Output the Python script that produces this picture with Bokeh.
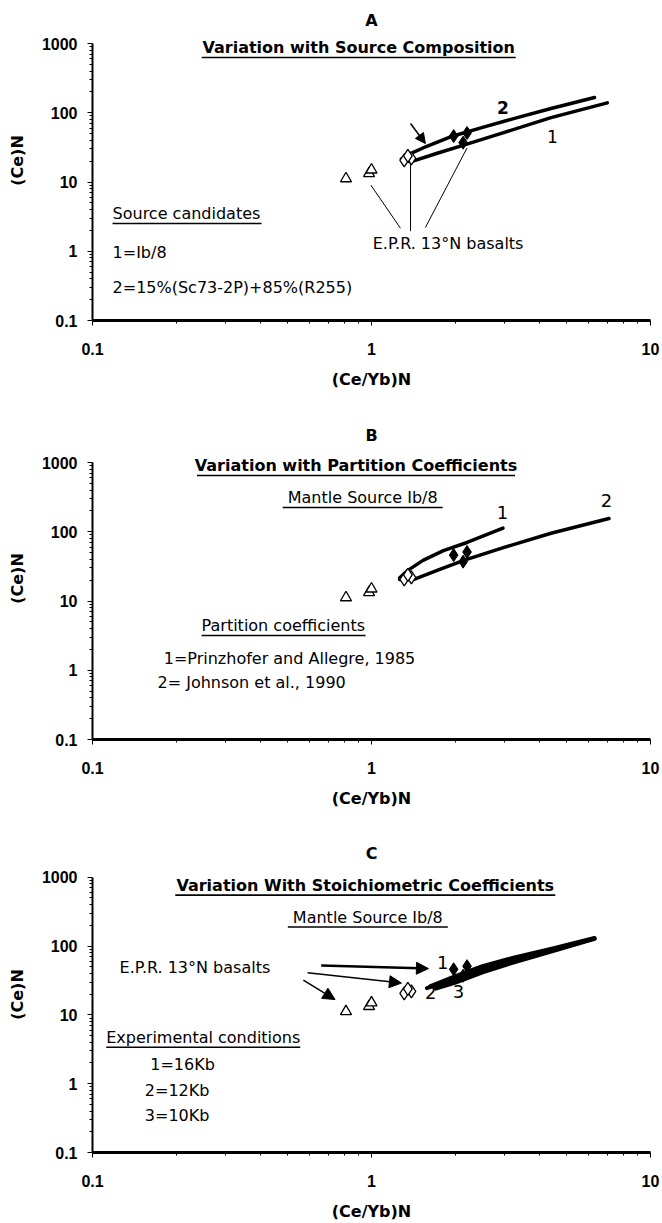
from bokeh.plotting import figure
from bokeh.models import FixedTicker, CustomJSTickFormatter, Label, Arrow, NormalHead, Range1d
from bokeh.layouts import column
from bokeh.embed import file_html
from bokeh.resources import INLINE

# ---------------- data ----------------
x_ticks = [0.1, 1, 10]
y_ticks = [0.1, 1, 10, 100, 1000]
x_label = "(Ce/Yb)N"
y_label = "(Ce)N"

# sample data (same in all panels)
tri_x = [0.81, 0.98, 1.00]
tri_y = [11.2, 13.3, 15.0]
open_x = [1.31, 1.39, 1.35]
open_y = [20.5, 22.0, 23.8]
fill_x = [1.97, 2.20, 2.13]
fill_y = [46, 51, 37]

# panel A: source composition
a1_x = [1.30, 1.38, 1.72, 2.14, 2.90, 4.40, 7.00]
a1_y = [21.0, 19.5, 26.0, 34.0, 50.0, 85.0, 139.0]
a2_x = [1.28, 1.36, 1.53, 1.92, 2.52, 3.33, 4.40, 6.30]
a2_y = [21.5, 25.0, 31.0, 45.0, 62.0, 85.0, 115.0, 166.0]

# panel B: partition coefficients
b1_x = [1.26, 1.35, 1.53, 1.81, 2.20, 2.96]
b1_y = [21.5, 27.7, 38.6, 53.5, 70.0, 113.0]
b2_x = [1.26, 1.42, 1.72, 2.14, 2.97, 4.40, 7.10]
b2_y = [20.5, 20.6, 27.7, 38.6, 59.0, 95.0, 155.0]

# panel C: stoichiometric coefficients
c1_x = [1.62, 2.00, 2.50, 3.20, 4.50, 6.30]
c1_y = [26.0, 36.5, 51.0, 67.0, 93.0, 131.0]
c2_x = [1.58, 2.00, 2.50, 3.20, 4.50, 6.30]
c2_y = [24.5, 33.0, 46.0, 62.0, 89.0, 129.0]
c3_x = [1.70, 2.00, 2.50, 3.20, 4.50, 6.30]
c3_y = [24.0, 29.5, 41.5, 57.0, 85.0, 127.0]

# ---------------- helpers ----------------
TXT = "DejaVu Sans"
TICKF = "Liberation Sans"
DX = 279.0
DY = 69.25


def shift_x(x, px):
    return x * 10 ** (px / DX)


def shift_y(y, px):
    return y * 10 ** (-px / DY)


def make_panel(top_gap, bottom):
    height = top_gap + 277 + bottom
    ymax = 1000 * 10 ** (top_gap / DY)
    p = figure(width=662, height=height, x_axis_type="log", y_axis_type="log",
               x_range=Range1d(0.1, 10), y_range=Range1d(0.1, ymax),
               output_backend="svg", toolbar_location=None, title=None,
               min_border_left=92, min_border_right=12, min_border_top=0,
               min_border_bottom=bottom)
    p.outline_line_color = None
    p.grid.visible = False
    p.background_fill_color = "white"
    p.border_fill_color = "white"

    minors_x = [m * d for d in [0.1, 1] for m in range(2, 10)]
    minors_y = [m * d for d in [0.1, 1, 10, 100] for m in range(2, 10)]
    p.xaxis.ticker = FixedTicker(ticks=x_ticks, minor_ticks=minors_x)
    p.yaxis.ticker = FixedTicker(ticks=y_ticks, minor_ticks=minors_y)
    p.yaxis.bounds = (0.1, 1000)
    fmt = CustomJSTickFormatter(code="return String(Math.round(tick*10)/10);")
    p.xaxis.formatter = fmt
    p.yaxis.formatter = fmt
    for ax in (p.xaxis, p.yaxis):
        ax.axis_line_color = "black"
        ax.major_tick_line_color = "black"
        ax.minor_tick_line_color = "black"
        ax.major_tick_in = 0
        ax.major_tick_out = 5
        ax.minor_tick_in = 0
        ax.minor_tick_out = 3
        ax.major_label_text_font = TICKF
        ax.major_label_text_font_style = "bold"
        ax.major_label_text_font_size = "16px"
        ax.major_label_text_color = "black"
        ax.axis_label_text_font = TXT
        ax.axis_label_text_font_style = "bold"
        ax.axis_label_text_font_size = "16px"
        ax.axis_label_text_color = "black"
    p.xaxis.axis_line_width = 3
    p.yaxis.axis_line_width = 2
    p.xaxis.major_label_standoff = 17
    p.yaxis.major_label_standoff = 10
    p.xaxis.axis_label_standoff = 12
    p.yaxis.axis_label_standoff = 12
    p.xaxis.axis_label = x_label
    p.yaxis.axis_label = y_label
    return p


def text(p, x, y, s, size="16px", bold=False, align="left", ul=None):
    p.add_layout(Label(x=x, y=y, text=s, text_align=align, text_baseline="middle",
                       text_font=TXT, text_font_size=size,
                       text_font_style="bold" if bold else "normal",
                       text_color="black"))
    if ul:
        if align == "center":
            x0, x1 = shift_x(x, -ul / 2), shift_x(x, ul / 2)
        else:
            x0, x1 = x, shift_x(x, ul)
        yu = shift_y(y, 10)
        p.line([x0, x1], [yu, yu], line_color="black", line_width=1.6)


def samples(p):
    p.scatter(tri_x, tri_y, marker="triangle", size=11, fill_color="white",
              line_color="black", line_width=1.3)
    p.scatter(open_x, open_y, marker="diamond", size=13, fill_color="white",
              line_color="black", line_width=1.3)
    p.scatter(fill_x, fill_y, marker="diamond", size=13, fill_color="black",
              line_color="black")


def curve(p, xs, ys, w=3.5):
    p.line(xs, ys, line_color="black", line_width=w, line_cap="round", line_join="round")


# ---------------- panel A ----------------
pA = make_panel(43, 97)
text(pA, 1.0, 2150, "A", size="16px", bold=True, align="center")
curve(pA, a1_x, a1_y)
curve(pA, a2_x, a2_y)
samples(pA)
pA.segment(x0=[1.27, 1.38, 1.56], y0=[2.15, 1.95, 2.2], x1=[0.995, 1.38, 2.2],
           y1=[9.0, 18.5, 31.0], line_color="black", line_width=1)
pA.add_layout(Arrow(end=NormalHead(size=10, fill_color="black", line_color="black"),
                    x_start=1.38, y_start=70, x_end=1.56, y_end=36,
                    line_color="black", line_width=1.5))
text(pA, 1.01, 1.3, "E.P.R. 13°N basalts")
text(pA, 2.96, 120, "2", size="17px", bold=True, align="center")
text(pA, 4.45, 46, "1", size="17px", align="center")
text(pA, 0.90, 875, "Variation with Source Composition", bold=True, align="center", ul=314)
text(pA, 0.118, 3.5, "Source candidates", ul=149)
text(pA, 0.118, 0.96, "1=Ib/8")
text(pA, 0.118, 0.30, "2=15%(Sc73-2P)+85%(R255)")

# ---------------- panel B ----------------
pB = make_panel(45, 97)
text(pB, 1.0, 2450, "B", size="16px", bold=True, align="center")
curve(pB, b1_x, b1_y)
curve(pB, b2_x, b2_y)
samples(pB)
text(pB, 0.88, 905, "Variation with Partition Coefficients", bold=True, align="center", ul=318)
text(pB, 0.93, 312, "Mantle Source Ib/8", align="center", ul=160)
text(pB, 2.95, 190, "1", size="18px", align="center")
text(pB, 6.95, 282, "2", size="18px", align="center")
text(pB, 0.246, 4.43, "Partition coefficients", ul=164)
text(pB, 0.18, 1.48, "1=Prinzhofer and Allegre, 1985")
text(pB, 0.171, 0.665, "2= Johnson et al., 1990")

# ---------------- panel C ----------------
pC = make_panel(41, 69)
text(pC, 1.0, 2222, "C", size="16px", bold=True, align="center")
curve(pC, c1_x, c1_y, 4)
curve(pC, c2_x, c2_y, 4)
curve(pC, c3_x, c3_y, 4)
samples(pC)
for (xs, ys, xe, ye, lw) in [(0.66, 52, 1.6, 47, 2.5), (0.59, 41, 1.28, 29, 1.5),
                             (0.57, 32, 0.74, 16.7, 1.5)]:
    pC.add_layout(Arrow(end=NormalHead(size=12, fill_color="black", line_color="black"),
                        x_start=xs, y_start=ys, x_end=xe, y_end=ye,
                        line_color="black", line_width=lw))
text(pC, 0.95, 767, "Variation With Stoichiometric Coefficients", bold=True, align="center", ul=380)
text(pC, 0.97, 264, "Mantle Source Ib/8", align="center", ul=160)
text(pC, 0.125, 48.6, "E.P.R. 13°N basalts")
text(pC, 1.8, 57, "1", size="18px", align="center")
text(pC, 1.63, 21, "2", size="18px", align="center")
text(pC, 2.05, 21.6, "3", size="18px", align="center")
text(pC, 0.112, 4.73, "Experimental conditions", ul=194)
text(pC, 0.161, 1.93, "1=16Kb")
text(pC, 0.154, 0.785, "2=12Kb")
text(pC, 0.154, 0.342, "3=10Kb")

layout = column(pA, pB, pC)
open("out.html", "w").write(file_html(layout, INLINE))
